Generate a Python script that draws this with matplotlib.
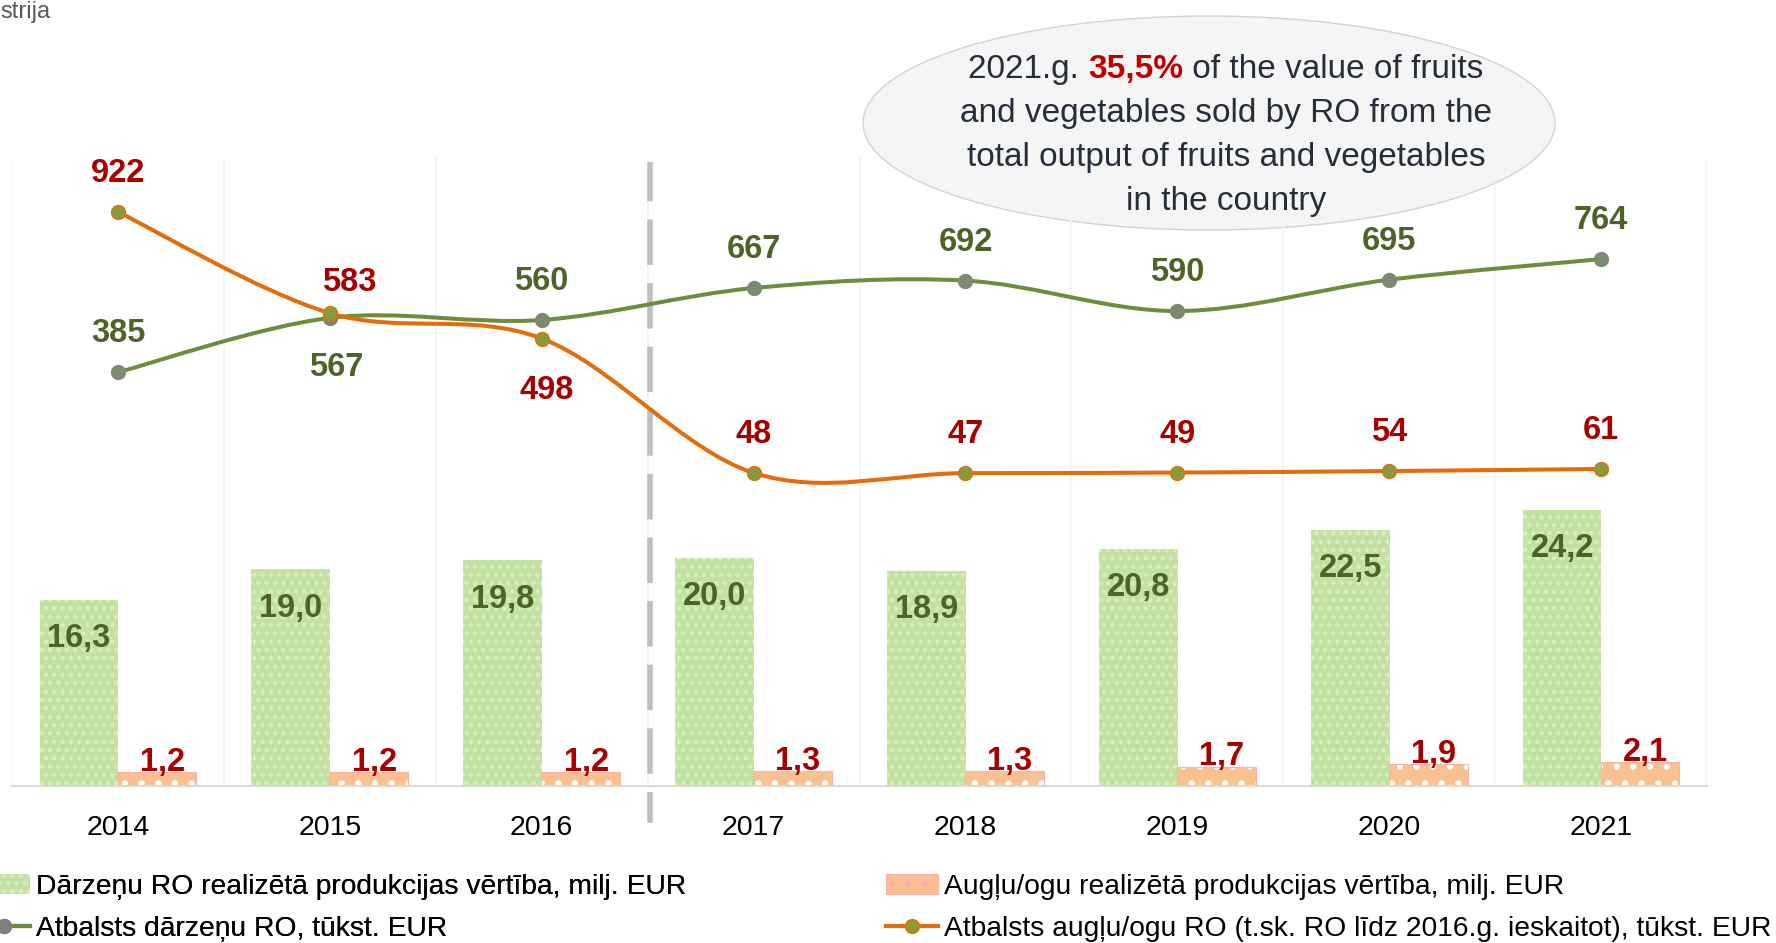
import numpy as np
import matplotlib
matplotlib.use("Agg")
import matplotlib.pyplot as plt
from matplotlib.path import Path
from matplotlib.patches import PathPatch, Ellipse, Patch
from matplotlib.lines import Line2D
import matplotlib.transforms as mtransforms

plt.rcParams['font.family'] = ['Liberation Sans', 'DejaVu Sans']
plt.rcParams['hatch.linewidth'] = 2.0

# data
years = ['2014', '2015', '2016', '2017', '2018', '2019', '2020', '2021']
veg_sales = [16.3, 19.0, 19.8, 20.0, 18.9, 20.8, 22.5, 24.2]      # milj. EUR
fruit_sales = [1.2, 1.2, 1.2, 1.3, 1.3, 1.7, 1.9, 2.1]           # milj. EUR
veg_support = [385, 567, 560, 667, 692, 590, 695, 764]           # tūkst. EUR
fruit_support = [922, 583, 498, 48, 47, 49, 54, 61]              # tūkst. EUR

veg_lbl = 'Dārzeņu RO realizētā produkcijas vērtība, milj. EUR'
fruit_lbl = 'Augļu/ogu realizētā produkcijas vērtība, milj. EUR'
veg_line_lbl = 'Atbalsts dārzeņu RO, tūkst. EUR'
fruit_line_lbl = 'Atbalsts augļu/ogu RO (t.sk. RO līdz 2016.g. ieskaitot), tūkst. EUR'

# colours
C_VEG_BAR, C_VEG_DOT = '#C3E2A1', '#D8EEC1'
C_FR_BAR, C_FR_EDGE = '#FAC090', '#F7B3AC'
C_VEG_TXT, C_FR_TXT = '#4F6228', '#A80000'
C_VEG_LINE, C_VEG_MK = '#6E8C3C', '#7D8A72'
C_FR_LINE, C_FR_MK = '#E46C0A', '#8A9A3A'

W, H = 1776, 943
LBL_FS = 23.5


def comma(v):
    return f"{v:.1f}".replace('.', ',')


def smooth_path(xs, ys):
    # Excel-like smoothed line (Catmull-Rom as cubic Bezier)
    p = np.column_stack([xs, ys]).astype(float)
    n = len(p)
    verts, codes = [p[0]], [Path.MOVETO]
    for i in range(n - 1):
        p0, p1, p2, p3 = p[max(i - 1, 0)], p[i], p[i + 1], p[min(i + 2, n - 1)]
        verts += [p1 + (p2 - p0) / 6, p2 - (p3 - p1) / 6, p2]
        codes += [Path.CURVE4] * 3
    return Path(verts, codes)


fig = plt.figure(figsize=(W / 100, H / 100), dpi=100)

# callout ellipse behind the plot
ell = Ellipse((1209 / W, 1 - 123 / H), 692 / W, 214 / H, transform=fig.transFigure,
              facecolor='#F5F5F5', edgecolor='#D3D3D3', lw=1.0, zorder=0)
fig.add_artist(ell)

ax = fig.add_axes([12 / W, 157 / H, 1695 / W, 629 / H])
ax.patch.set_alpha(0)
x = np.arange(len(years))

ax.set_xlim(-0.5, len(years) - 0.5)
ax.set_ylim(0, 55.2)
for b in np.arange(-0.5, len(years), 1.0):
    ax.axvline(b, color='#F3F3F3', lw=1.2, zorder=0)

bw = 0.372
ax.bar(x - 0.184, veg_sales, bw, color=C_VEG_BAR, edgecolor=C_VEG_DOT, lw=0,
       hatch='..', zorder=2)
ax.bar(x + 0.184, fruit_sales, bw, color=C_FR_BAR, edgecolor='white', lw=0,
       hatch='.', zorder=2)
ax.bar(x + 0.184, fruit_sales, bw, fill=False, edgecolor=C_FR_EDGE, lw=0.8, zorder=2)

for xi, v in zip(x, veg_sales):
    ax.annotate(comma(v), (xi - 0.184, v), xytext=(0, -34), textcoords='offset points',
                ha='center', va='baseline', fontsize=LBL_FS, fontweight='bold',
                color=C_VEG_TXT, zorder=5)
for xi, v in zip(x, fruit_sales):
    ax.annotate(comma(v), (xi + 0.21, v), xytext=(0, 1), textcoords='offset points',
                ha='center', va='baseline', fontsize=LBL_FS, fontweight='bold',
                color=C_FR_TXT, zorder=5)

for s in ['left', 'right', 'top']:
    ax.spines[s].set_visible(False)
ax.spines['bottom'].set_color('#D9D9D9')
ax.spines['bottom'].set_linewidth(1.5)
ax.set_yticks([])
ax.set_xticks(x)
ax.set_xticklabels(years, fontsize=20.5)
ax.tick_params(axis='x', length=0, pad=21)

# divider between 2016 and 2017 (drawn from the bottom up)
trans = mtransforms.blended_transform_factory(ax.transData, ax.transAxes)
ax.plot([2.51, 2.51], [-0.0588, 0.992], transform=trans, color='#BFBFBF', lw=4,
        linestyle=(2.6, (8.2, 3.25)), solid_capstyle='butt', dash_capstyle='butt',
        clip_on=False, zorder=1)

# support lines on secondary axis
ax2 = ax.twinx()
ax2.set_ylim(-1001, 1106)
ax2.set_yticks([])
for s in ax2.spines.values():
    s.set_visible(False)

ax2.add_patch(PathPatch(smooth_path(x, veg_support), fill=False, edgecolor=C_VEG_LINE,
                        lw=2.9, capstyle='round', zorder=3))
ax2.plot(x, veg_support, 'o', ms=10, color=C_VEG_MK, mec=C_VEG_MK, zorder=4)
ax2.add_patch(PathPatch(smooth_path(x, fruit_support), fill=False, edgecolor=C_FR_LINE,
                        lw=2.9, capstyle='round', zorder=3))
ax2.plot(x, fruit_support, 'o', ms=10, color=C_FR_MK, mec=C_FR_LINE, mew=1.0, zorder=4)

# label offsets in px (dx, dy of baseline); negative dy = top of text below point
veg_off = [(0, 30), (6, -34), (0, 30), (0, 30), (0, 30), (0, 30), (0, 30), (0, 30)]
fruit_off = [(0, 30), (19, 22), (5, -36), (0, 30), (0, 30), (0, 30), (0, 30), (0, 30)]
for xi, v, (dx, dy) in zip(x, veg_support, veg_off):
    ax2.annotate(str(v), (xi, v), xytext=(dx * 0.72, dy * 0.72), textcoords='offset points',
                 ha='center', va='baseline' if dy > 0 else 'top', fontsize=LBL_FS,
                 fontweight='bold', color=C_VEG_TXT, zorder=5)
for xi, v, (dx, dy) in zip(x, fruit_support, fruit_off):
    ax2.annotate(str(v), (xi, v), xytext=(dx * 0.72, dy * 0.72), textcoords='offset points',
                 ha='center', va='baseline' if dy > 0 else 'top', fontsize=LBL_FS,
                 fontweight='bold', color=C_FR_TXT, zorder=5)

# legends
h_vb = Patch(facecolor=C_VEG_BAR, edgecolor=C_VEG_DOT, lw=0, hatch='..')
h_fb = Patch(facecolor=C_FR_BAR, edgecolor=C_FR_EDGE, lw=0.8, hatch='.')
h_vl = Line2D([], [], color=C_VEG_LINE, lw=3, marker='o', ms=10, mfc='#7F7F7F', mec='#7F7F7F')
h_fl = Line2D([], [], color=C_FR_LINE, lw=3, marker='o', ms=10, mfc=C_FR_MK, mec=C_FR_LINE)
leg_kw = dict(loc='upper left', bbox_transform=fig.transFigure, frameon=False,
              fontsize=20.3, handlelength=1.85, handleheight=0.72, handletextpad=0.2,
              labelspacing=0.58, borderpad=0, borderaxespad=0)
leg1 = fig.legend([h_vb, h_vl], [veg_lbl, veg_line_lbl],
                  bbox_to_anchor=(-22 / W, 1 - 874 / H), **leg_kw)
fig.add_artist(leg1)
fig.legend([h_fb, h_fl], [fruit_lbl, fruit_line_lbl],
           bbox_to_anchor=(886 / W, 1 - 874 / H), **leg_kw)

# title fragment at the top-left (cut off in the source slide)
fig.text(0.5 / W, 1 - 1 / H, 'strija', fontsize=17, color='#595959', va='top', ha='left')

# callout text
cx = 1226 / W
txt_col = '#252E3B'
fs = 24
renderer = fig.canvas.get_renderer()
parts = [('2021.g. ', txt_col, 'normal'), ('35,5%', '#C00000', 'bold'),
         (' of the value of fruits', txt_col, 'normal')]
objs = [fig.text(0, 1 - 78 / H, s, color=c, fontweight=fw, fontsize=fs, va='baseline')
        for s, c, fw in parts]
widths = [o.get_window_extent(renderer).width for o in objs]
xpos = 1226 - sum(widths) / 2
for o, w in zip(objs, widths):
    o.set_x(xpos / W)
    xpos += w
for yb, line in [(122, 'and vegetables sold by RO from the'),
                 (166, 'total output of fruits and vegetables'),
                 (210, 'in the country')]:
    fig.text(cx, 1 - yb / H, line, color=txt_col, fontsize=fs, ha='center', va='baseline')

fig.savefig('out.png', dpi=100)
